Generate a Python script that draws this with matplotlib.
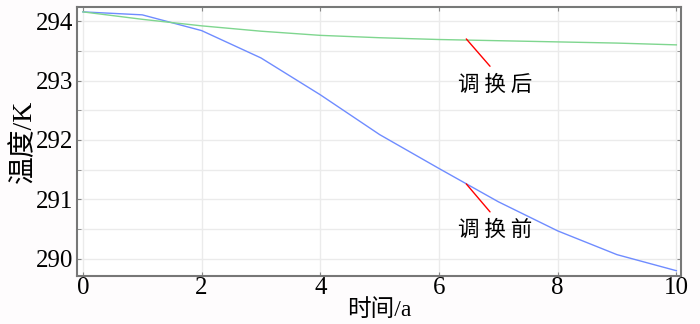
import numpy as np
import matplotlib
matplotlib.use('Agg')
import matplotlib.pyplot as plt
from matplotlib.ticker import MultipleLocator

plt.rcParams['font.family'] = ['Liberation Serif', 'Noto Sans CJK SC']

# 数据
years = [0, 1, 2, 3, 4, 5, 6, 7, 8, 9, 10]
temp_before = [294.155, 294.105, 293.84, 293.38, 292.76, 292.09, 291.52, 290.96, 290.47, 290.07, 289.80]
temp_after = [294.155, 294.03, 293.92, 293.83, 293.76, 293.72, 293.69, 293.67, 293.65, 293.63, 293.60]
xticks = [0, 2, 4, 6, 8, 10]
yticks = [290, 291, 292, 293, 294]

fig = plt.figure(figsize=(7, 3.24), dpi=100, facecolor='#fefcfd')
ax = fig.add_axes([0.11, 0.148, 0.863, 0.83])

ax.plot(years, temp_before, color='#6f8cff', lw=1.0)
ax.plot(years, temp_after, color='#7fd68f', lw=1.0)

ax.set_xlim(-0.1, 10.08)
ax.set_ylim(289.71, 294.235)
ax.set_xticks(xticks)
ax.set_yticks(yticks)
ax.yaxis.set_minor_locator(MultipleLocator(0.5))
ax.grid(True, which='both', color='#ebebeb', lw=1.0)
ax.set_axisbelow(True)

ax.tick_params(which='both', direction='in', top=True, right=True,
               labelsize=18, color='#888888', length=3)
ax.tick_params(axis='x', pad=1)
ax.tick_params(axis='y', pad=3)
for s in ax.spines.values():
    s.set_color('#777777')
    s.set_linewidth(1.5)

ax.set_xlabel('时间/a', fontsize=17, labelpad=0)
ax.set_ylabel('温度/K', fontsize=20, labelpad=-1)

# 标注
cjk = ['Noto Sans CJK SC']
ax.annotate('', xy=(6.46, 293.70), xytext=(6.86, 293.24),
            arrowprops=dict(arrowstyle='-', color='red', lw=1.0, shrinkA=0, shrinkB=0))
ax.text(6.95, 292.92, '调 换 后', fontsize=15.5, ha='center', va='center', family=cjk)
ax.annotate('', xy=(6.46, 291.26), xytext=(6.86, 290.79),
            arrowprops=dict(arrowstyle='-', color='red', lw=1.0, shrinkA=0, shrinkB=0))
ax.text(6.95, 290.49, '调 换 前', fontsize=15.5, ha='center', va='center', family=cjk)

fig.savefig('out.png', dpi=100, facecolor=fig.get_facecolor())
